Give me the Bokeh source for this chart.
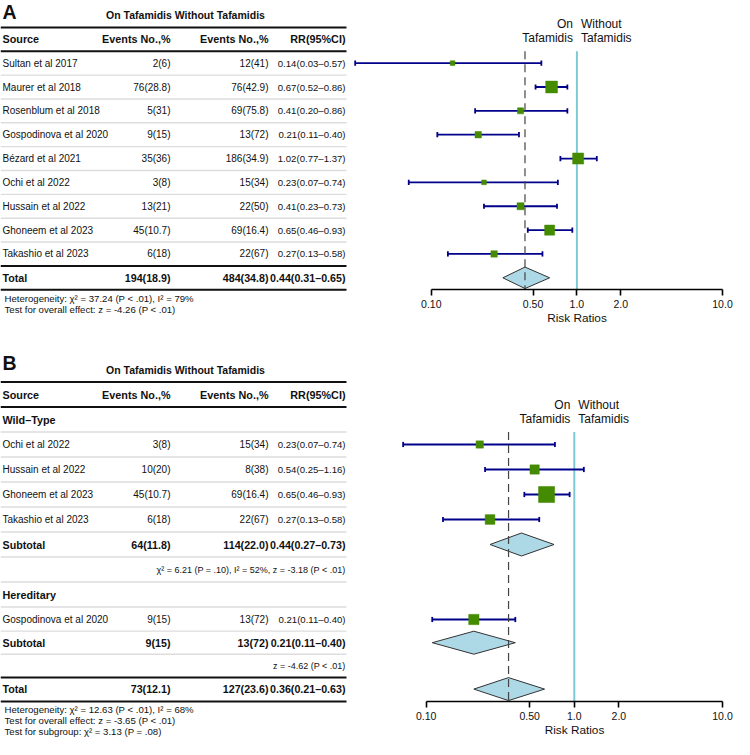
import math
from bokeh.plotting import figure
from bokeh.models import (Range1d, LogScale, LogAxis, FixedTicker,
                          CustomJSTickFormatter, ColumnDataSource)
from bokeh.core.properties import value
from bokeh.embed import file_html
from bokeh.resources import INLINE

# ---------------- data ----------------
col_headers = ["Source", "Events No.,%", "Events No.,%", "RR(95%CI)"]
group_header = "On Tafamidis Without Tafamidis"
favours_left = ["On", "Tafamidis"]
favours_right = ["Without", "Tafamidis"]
tick_values = [0.1, 0.5, 1.0, 2.0, 10.0]
tick_labels = ["0.10", "0.50", "1.0", "2.0", "10.0"]
axis_title = "Risk Ratios"

# Panel A
a_studies = ["Sultan et al 2017", "Maurer et al 2018", "Rosenblum et al 2018",
             "Gospodinova et al 2020", "Bézard et al 2021", "Ochi et al 2022",
             "Hussain et al 2022", "Ghoneem et al 2023", "Takashio et al 2023"]
a_on = ["2(6)", "76(28.8)", "5(31)", "9(15)", "35(36)", "3(8)", "13(21)", "45(10.7)", "6(18)"]
a_without = ["12(41)", "76(42.9)", "69(75.8)", "13(72)", "186(34.9)", "15(34)", "22(50)", "69(16.4)", "22(67)"]
a_rr = [0.14, 0.67, 0.41, 0.21, 1.02, 0.23, 0.41, 0.65, 0.27]
a_lo = [0.03, 0.52, 0.20, 0.11, 0.77, 0.07, 0.23, 0.46, 0.13]
a_hi = [0.57, 0.86, 0.86, 0.40, 1.37, 0.74, 0.73, 0.93, 0.58]
a_weight = [3.9, 24.2, 6.3, 7.1, 21.3, 3.9, 8.6, 17.6, 7.1]
a_total = ["Total", "194(18.9)", "484(34.8)"]
a_total_rr = [0.44, 0.31, 0.65]
a_notes = ["Heterogeneity: χ² = 37.24 (P < .01), I² = 79%",
           "Test for overall effect: z = -4.26 (P < .01)"]

# Panel B
b_groups = ["Wild–Type", "Hereditary"]
b_wt_studies = ["Ochi et al 2022", "Hussain et al 2022", "Ghoneem et al 2023", "Takashio et al 2023"]
b_wt_on = ["3(8)", "10(20)", "45(10.7)", "6(18)"]
b_wt_without = ["15(34)", "8(38)", "69(16.4)", "22(67)"]
b_wt_rr = [0.23, 0.54, 0.65, 0.27]
b_wt_lo = [0.07, 0.25, 0.46, 0.13]
b_wt_hi = [0.74, 1.16, 0.93, 0.58]
b_wt_weight = [8.9, 14.5, 43.0, 15.8]
b_wt_sub = ["Subtotal", "64(11.8)", "114(22.0)"]
b_wt_sub_rr = [0.44, 0.27, 0.73]
b_wt_stats = "χ² = 6.21 (P = .10), I² = 52%, z = -3.18 (P < .01)"
b_he_studies = ["Gospodinova et al 2020"]
b_he_on = ["9(15)"]
b_he_without = ["13(72)"]
b_he_rr = [0.21]
b_he_lo = [0.11]
b_he_hi = [0.40]
b_he_weight = [17.8]
b_he_sub = ["Subtotal", "9(15)", "13(72)"]
b_he_sub_rr = [0.21, 0.11, 0.40]
b_he_stats = "z = -4.62 (P < .01)"
b_total = ["Total", "73(12.1)", "127(23.6)"]
b_total_rr = [0.36, 0.21, 0.63]
b_notes = ["Heterogeneity: χ² = 12.63 (P < .01), I² = 68%",
           "Test for overall effect: z = -3.65 (P < .01)",
           "Test for subgroup: χ² = 3.13 (P = .08)"]

# ---------------- layout / style ----------------
W_PX, H_PX = 734, 739
FONT = value("Liberation Sans")
INK = "#111111"
GREEN = "#458B00"
NAVY = "#00008B"
TEAL = "#7FC9D6"
DIAMOND = "#ADD8E6"

COL1_X, COL2_X, COL3_X, COL4_X = 2, 170, 268, 345
TABLE_RIGHT = 346
NAME, COUNT, RRS = 10.0, 10.0, 9.6          # regular cell sizes by column
BOLD, TOT, STAT, NOTE = 10.8, 10.7, 9.0, 9.6


def fs(px):
    return value(f"{px:.2f}px")


def rrtxt(rr, lo, hi):
    return f"{rr:.2f}({lo:.2f}–{hi:.2f})"


p = figure(width=W_PX, height=H_PX, x_range=Range1d(0, W_PX), y_range=Range1d(H_PX, 0),
           output_backend="svg", toolbar_location=None, x_axis_location=None,
           y_axis_location=None, min_border=0, outline_line_color=None)
p.title.visible = False
p.xgrid.visible = False
p.ygrid.visible = False

# log scales for the two forest panels: (x position of 0.1, px per decade)
cal = {"logA": (430.8, 145.6), "logB": (425.6, 148.2)}
p.extra_x_ranges = {k: Range1d(10 ** (-1 - x0 / d), 10 ** (-1 + (W_PX - x0) / d))
                    for k, (x0, d) in cal.items()}
p.extra_x_scales = {k: LogScale() for k in cal}


def text(x, y, t, align="left", bold=False, size=NAME, rng="default", xoff=0, baseline="middle"):
    p.text(x=x, y=y, text=t, text_align=align, text_baseline=baseline,
           text_font=FONT, text_font_size=fs(size), text_color=INK,
           text_font_style="bold" if bold else "normal", x_range_name=rng,
           x_offset=xoff)


def hline(ys, width, color):
    p.segment(x0=[0] * len(ys), x1=[TABLE_RIGHT] * len(ys), y0=ys, y1=ys,
              line_color=color, line_width=width)


def table_row(y, cells, bold=False, size=None):
    aligns = ["left", "right", "right", "right"]
    xs = [COL1_X, COL2_X, COL3_X, COL4_X]
    sizes = [size] * 4 if size else [NAME, COUNT, COUNT, RRS]
    for c, a, x, sz in zip(cells, aligns, xs, sizes):
        if c:
            text([x], [y], [c], align=a, bold=bold, size=sz)


def forest(rng, ys, rr, lo, hi, weight, unit):
    cap = 2.6
    p.segment(x0=lo, x1=hi, y0=ys, y1=ys, line_color=NAVY, line_width=1.8, x_range_name=rng)
    p.segment(x0=lo, x1=lo, y0=[y - cap for y in ys], y1=[y + cap for y in ys],
              line_color=NAVY, line_width=1.8, x_range_name=rng)
    p.segment(x0=hi, x1=hi, y0=[y - cap for y in ys], y1=[y + cap for y in ys],
              line_color=NAVY, line_width=1.8, x_range_name=rng)
    src = ColumnDataSource(dict(x=rr, y=ys, s=[unit * math.sqrt(w) for w in weight]))
    p.scatter(x="x", y="y", size="s", source=src, marker="square", fill_color=GREEN,
              line_color=GREEN, line_width=0.5, x_range_name=rng)


def diamond(rng, y, est, half):
    rr, lo, hi = est
    p.patches(xs=[[lo, rr, hi, rr]], ys=[[y, y - half, y, y + half]], fill_color=DIAMOND,
              line_color="#333333", line_width=1.0, x_range_name=rng)


def axis(rng, yloc):
    ax = LogAxis(x_range_name=rng, fixed_location=yloc,
                 bounds=(tick_values[0], tick_values[-1]),
                 ticker=FixedTicker(ticks=tick_values, minor_ticks=[]),
                 formatter=CustomJSTickFormatter(args=dict(vals=tick_values, labs=tick_labels), code="""
                    for (let i = 0; i < vals.length; i++) {
                      if (Math.abs(vals[i] - tick) < 1e-9 * Math.max(1, vals[i])) return labs[i];
                    }
                    return String(tick);"""),
                 axis_label=axis_title)
    ax.axis_line_color = "#000000"
    ax.axis_line_width = 1.6
    ax.major_tick_line_color = "#000000"
    ax.major_tick_line_width = 1.6
    ax.major_tick_out = 6
    ax.major_tick_in = 0
    ax.minor_tick_out = 0
    ax.minor_tick_in = 0
    ax.major_label_text_font = "Liberation Sans"
    ax.major_label_text_font_size = "10.5px"
    ax.major_label_text_color = INK
    ax.major_label_standoff = 4
    ax.axis_label_text_font = "Liberation Sans"
    ax.axis_label_text_font_size = "11.8px"
    ax.axis_label_text_font_style = "normal"
    ax.axis_label_text_color = INK
    ax.axis_label_standoff = 0
    p.add_layout(ax, "below")


def vref(rng, x, y0, y1, color, width, dash="solid"):
    p.segment(x0=[x], x1=[x], y0=[y0], y1=[y1], line_color=color, line_width=width,
              line_dash=dash, x_range_name=rng)


def favours(rng, top):
    for lab, off in ((favours_left, -4), (favours_right, 4)):
        text([1.0], [top - 27.3], [lab[0]], align="right" if off < 0 else "left",
             size=12, rng=rng, xoff=off)
        text([1.0], [top - 13.3], [lab[1]], align="right" if off < 0 else "left",
             size=12, rng=rng, xoff=off)


# ================= Panel A =================
A_Y0, A_DY = 38.8, 23.85
ya = [A_Y0 + A_DY * k for k in range(11)]          # 0 header, 1..9 studies, 10 total
text([COL1_X], [0], ["A"], bold=True, size=19.5, baseline="top")
text([185], [ya[0] - A_DY], [group_header], align="center", bold=True, size=10.5)
hline([ya[0] - A_DY / 2, ya[0] + A_DY / 2, ya[9] + A_DY / 2, ya[10] + A_DY / 2], 2.0, "#111111")
hline([ya[k] + A_DY / 2 for k in range(1, 9)], 1.4, "#DDDDDD")
table_row(ya[0], col_headers, bold=True, size=BOLD)
for i, name in enumerate(a_studies):
    table_row(ya[i + 1], [name, a_on[i], a_without[i], rrtxt(a_rr[i], a_lo[i], a_hi[i])])
table_row(ya[10], a_total + [rrtxt(*a_total_rr)], bold=True, size=TOT)
for j, note in enumerate(a_notes):
    text([4], [ya[10] + A_DY / 2 + 8.5 + 11 * j], [note], size=NOTE)

a_top = ya[1] - A_DY / 2
a_axis = ya[10] + A_DY / 2
vref("logA", 1.0, a_top, a_axis, TEAL, 2.0)
forest("logA", ya[1:10], a_rr, a_lo, a_hi, a_weight, 2.4)
diamond("logA", ya[10], a_total_rr, 0.45 * A_DY)
vref("logA", a_total_rr[0], a_top, a_axis, "#444444", 1.2, "8 5")
favours("logA", a_top)
axis("logA", a_axis)

# ================= Panel B =================
B_Y0, B_DY, B_DY2 = 394.0, 25.0, 23.2
yb = [B_Y0 + B_DY * k for k in range(10)] + [B_Y0 + B_DY * 9 + B_DY2 * j for j in (1, 2, 3)]
# rows: 0 header, 1 WT head, 2-5 WT studies, 6 subtotal, 7 stats, 8 Hered head,
#       9 study, 10 subtotal, 11 stats, 12 total


def mid(k):
    return (yb[k] + yb[k + 1]) / 2


text([COL1_X], [351], ["B"], bold=True, size=19.5, baseline="top")
text([185], [yb[0] - 25], [group_header], align="center", bold=True, size=10.5)
hline([yb[0] - 12.5, mid(0), mid(11), yb[12] + 12.4], 2.0, "#111111")
hline([mid(k) for k in range(1, 11)], 1.4, "#DDDDDD")
table_row(yb[0], col_headers, bold=True, size=BOLD)
table_row(yb[1], [b_groups[0], "", "", ""], bold=True, size=BOLD)
for i, name in enumerate(b_wt_studies):
    table_row(yb[2 + i], [name, b_wt_on[i], b_wt_without[i],
                          rrtxt(b_wt_rr[i], b_wt_lo[i], b_wt_hi[i])])
table_row(yb[6], b_wt_sub + [rrtxt(*b_wt_sub_rr)], bold=True, size=TOT)
text([COL4_X], [yb[7]], [b_wt_stats], align="right", size=STAT)
table_row(yb[8], [b_groups[1], "", "", ""], bold=True, size=BOLD)
for i, name in enumerate(b_he_studies):
    table_row(yb[9 + i], [name, b_he_on[i], b_he_without[i],
                          rrtxt(b_he_rr[i], b_he_lo[i], b_he_hi[i])])
table_row(yb[10], b_he_sub + [rrtxt(*b_he_sub_rr)], bold=True, size=TOT)
text([COL4_X], [yb[11]], [b_he_stats], align="right", size=STAT)
table_row(yb[12], b_total + [rrtxt(*b_total_rr)], bold=True, size=TOT)
for j, note in enumerate(b_notes):
    text([4], [yb[12] + 12.4 + 8.0 + 10.8 * j], [note], size=NOTE)

b_top = yb[2] - B_DY / 2
b_axis = yb[12] + 12.4
vref("logB", 1.0, b_top, b_axis, TEAL, 2.0)
forest("logB", yb[2:6], b_wt_rr, b_wt_lo, b_wt_hi, b_wt_weight, 2.45)
forest("logB", yb[9:10], b_he_rr, b_he_lo, b_he_hi, b_he_weight, 2.45)
diamond("logB", yb[6], b_wt_sub_rr, 0.46 * B_DY)
diamond("logB", yb[10], b_he_sub_rr, 0.46 * B_DY)
diamond("logB", yb[12], b_total_rr, 0.46 * B_DY)
vref("logB", b_total_rr[0], b_top, b_axis, "#444444", 1.2, "8 5")
favours("logB", b_top)
axis("logB", b_axis)

open("out.html", "w").write(file_html(p, INLINE))
